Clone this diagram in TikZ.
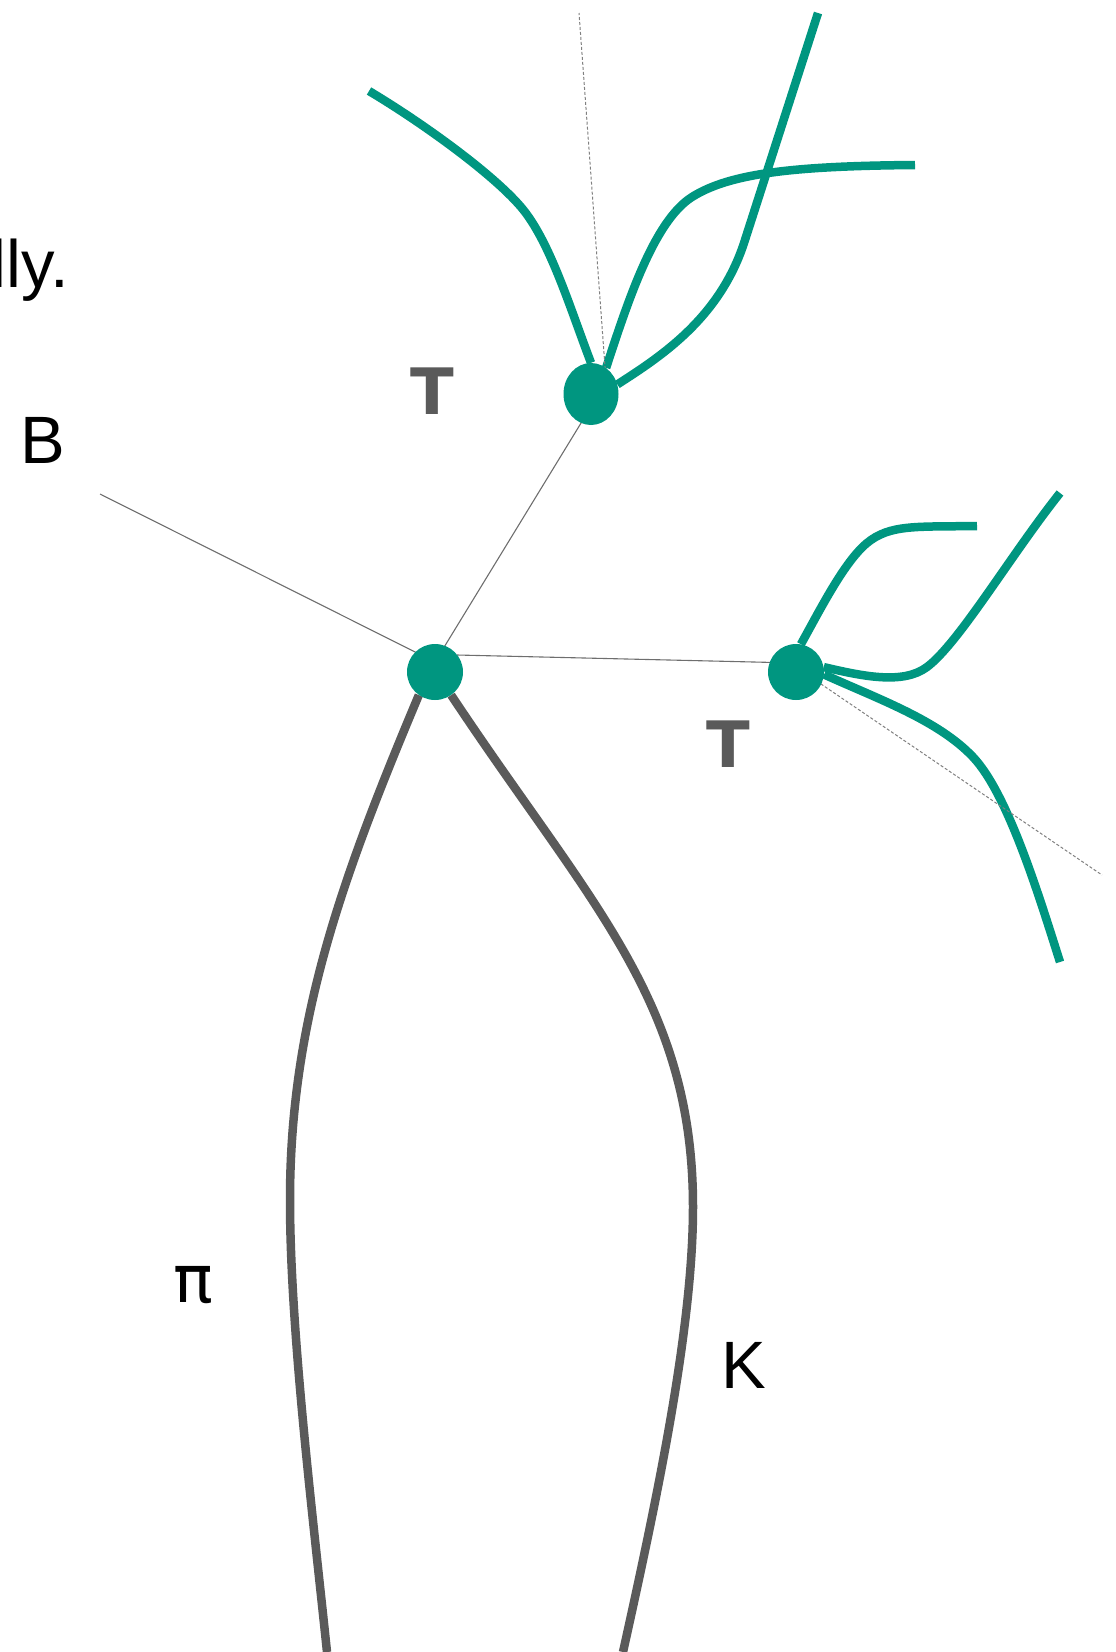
\documentclass[tikz,border=0pt]{standalone}
\usepackage{fontspec}
\setmainfont{Liberation Sans}
\newfontfamily\dejavu{DejaVu Sans}
\usetikzlibrary{shapes.geometric,backgrounds}
\definecolor{tealc}{RGB}{0,150,128}
\definecolor{dgray}{RGB}{90,90,90}
\definecolor{lgray}{RGB}{110,110,110}
\begin{document}
\begin{tikzpicture}[x=1pt,y=-1pt,
  vtx/.style={circle,fill=tealc,inner sep=0pt,minimum size=56pt},
  evtx/.style={ellipse,fill=tealc,inner sep=0pt,minimum width=55pt,minimum height=62pt},
  thinline/.style={draw=lgray,line width=1.1pt},
  dashline/.style={draw=gray,line width=1pt,dash pattern=on 3pt off 2pt},
  tealline/.style={draw=tealc,line width=8.5pt},
  grayline/.style={draw=dgray,line width=8.5pt},
  lbl/.style={inner sep=0pt,font=\fontsize{67}{80}\selectfont},
  tlbl/.style={inner sep=0pt,text=dgray,font=\fontsize{64}{80}\dejavu\bfseries}
]
\useasboundingbox (0,0) rectangle (1116,1652);

% vertices
\node[vtx] (mv) at (435,672) {};
\node[evtx] (tv) at (591,394) {};
\node[vtx] (rv) at (796,672) {};

% free ends
\coordinate (bend) at (100,494);
\coordinate (tdash) at (579,13);
\coordinate (rdash) at (1102,875);
\coordinate (pend) at (327,1652);
\coordinate (kend) at (623,1652);
\coordinate (ta) at (369,91);
\coordinate (tb) at (915,165);
\coordinate (tc) at (818,13);
\coordinate (ra) at (977,526);
\coordinate (rb) at (1060,493);
\coordinate (rc) at (1060,962);

% labels
\node[lbl,anchor=base east] (lly) at (69,287) {lly.};
\node[lbl,anchor=base] (B) at (43,463) {B};
\node[tlbl,anchor=base] (T1) at (432,414) {T};
\node[tlbl,anchor=base] (T2) at (728,767) {T};
\node[lbl,anchor=base,font=\fontsize{66}{80}\dejavu] (pi) at (193,1302) {π};
\node[lbl,anchor=base] (K) at (744,1388) {K};

\begin{scope}[on background layer]
  % thin connectors
  \draw[thinline] (bend) -- ([yshift=10pt]mv.center);
  \draw[thinline] ([yshift=10pt]mv.center) -- ([xshift=9pt,yshift=2pt]tv.center);
  \draw[thinline] ([xshift=22pt,yshift=17pt]mv.center) -- ([yshift=9pt]rv.center);

  % pion and kaon tracks
  \draw[grayline] (mv.235) .. controls (342,878) and (290,1020) .. (290,1200)
                           .. controls (290,1330) and (313,1517) .. (pend);
  \draw[grayline] (mv.305) .. controls (589,903) and (693,1000) .. (693,1207)
                           .. controls (693,1330) and (656,1503) .. (kend);

  % tau decay products (top)
  \draw[tealline] (tv.north) .. controls (570,308) and (550,241) .. (521,207)
                             .. controls (492,173) and (421,122) .. (ta);
  \draw[tealline] (tv.60) .. controls (628,301) and (654,221) .. (692,197)
                          .. controls (730,173) and (795,166) .. (tb);
  \draw[tealline] (tv.20) .. controls (660,357) and (719,319) .. (744,243)
                          -- (tc);

  % tau decay products (right)
  \draw[tealline] (rv.80) .. controls (820,610) and (844,562) .. (867,543)
                          .. controls (890,524) and (917,527) .. (ra);
  \draw[tealline] (rv.10) .. controls (862,676) and (903,685) .. (927,667)
                          .. controls (959,643) and (1010,556) .. (rb);
  \draw[tealline] (rv.-5) .. controls (878,699) and (938,720) .. (973,757)
                          .. controls (1008,794) and (1039,896) .. (rc);

  % neutrino directions
  \draw[dashline] ([xshift=16pt]tv.center) -- (tdash);
  \draw[dashline] ([yshift=5pt]rv.center) -- (rdash);
\end{scope}
\end{tikzpicture}
\end{document}
